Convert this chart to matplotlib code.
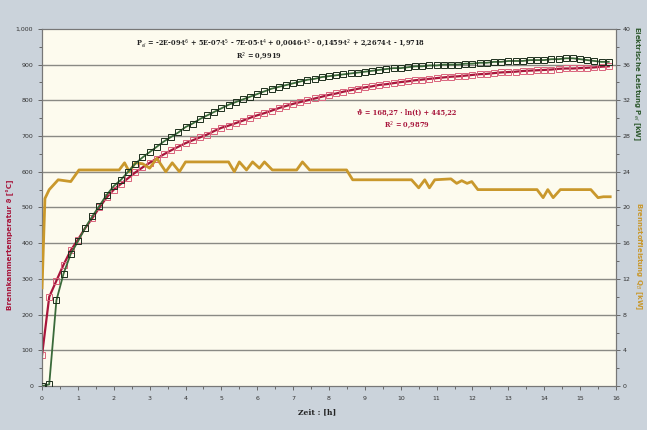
import numpy as np
import matplotlib
matplotlib.use("Agg")
from matplotlib import pyplot as plt
from matplotlib.ticker import MultipleLocator, FuncFormatter

#time axis for the measured series [h]
t_meas = [i * 0.2 for i in range(80)]

#combustion chamber temperature [degC]
temp = [87, 250, 295, 340, 380, 410, 442, 470, 500, 528,
        550, 566, 582, 598, 612, 625, 637, 649, 660, 670,
        680, 688, 696, 704, 714, 723, 729, 736, 743, 751,
        758, 764, 771, 778, 784, 790, 795, 800, 805, 810,
        815, 819, 824, 828, 832, 836, 839, 843, 845, 848,
        851, 853, 856, 858, 860, 862, 864, 866, 867, 869,
        871, 873, 874, 876, 878, 879, 880, 882, 883, 884,
        885, 886, 888, 889, 889, 890, 891, 892, 894, 895]

#electric power [kW]
p_el = [0.0, 0.2, 9.6, 12.6, 14.8, 16.2, 17.7, 19.0, 20.2, 21.4,
        22.4, 23.1, 24.0, 24.9, 25.6, 26.2, 26.8, 27.4, 27.9, 28.4,
        29.0, 29.4, 29.9, 30.3, 30.7, 31.1, 31.5, 31.8, 32.1, 32.4,
        32.7, 33.0, 33.3, 33.5, 33.7, 33.9, 34.1, 34.3, 34.4, 34.6,
        34.7, 34.8, 34.9, 35.0, 35.1, 35.2, 35.3, 35.4, 35.5, 35.6,
        35.6, 35.7, 35.8, 35.8, 35.9, 35.9, 36.0, 36.0, 36.0, 36.1,
        36.1, 36.2, 36.2, 36.3, 36.3, 36.4, 36.4, 36.4, 36.5, 36.5,
        36.5, 36.6, 36.6, 36.7, 36.7, 36.6, 36.5, 36.4, 36.3, 36.3]

#fuel power (orange) [kW]
t_fuel = [0.0, 0.08, 0.2, 0.45, 0.8, 1.03, 2.15, 2.3, 2.43, 2.6,
          2.8, 3.0, 3.2, 3.45, 3.63, 3.83, 4.0, 5.2, 5.36, 5.5,
          5.7, 5.87, 6.06, 6.2, 6.42, 7.1, 7.26, 7.46, 8.49, 8.66,
          10.3, 10.5, 10.67, 10.8, 10.95, 11.4, 11.56, 11.7, 11.85, 11.98,
          12.15, 13.8, 13.97, 14.1, 14.25, 14.45, 15.3, 15.5, 15.65, 15.84]
p_fuel = [11.0, 21.0, 22.0, 23.1, 22.9, 24.2, 24.2, 25.0, 24.0, 25.0,
          24.9, 24.4, 25.5, 24.0, 25.0, 24.0, 25.1, 25.1, 24.0, 25.1,
          24.2, 25.1, 24.4, 25.1, 24.2, 24.2, 25.1, 24.2, 24.2, 23.1,
          23.1, 22.2, 23.1, 22.2, 23.1, 23.2, 22.7, 23.0, 22.7, 22.9,
          22.0, 22.0, 21.1, 22.0, 21.1, 22.0, 22.0, 21.1, 21.2, 21.2]

bg = '#cbd3db'
fig = plt.figure(figsize=(6.47, 4.30), dpi=100, facecolor=bg)
ax = fig.add_axes([0.065, 0.102, 0.887, 0.831])
ax.set_facecolor('#fdfbee')
ax2 = ax.twinx()

#grid lines
for v in range(100, 1000, 100):
    ax.axhline(v, color='#8a8a84', lw=1.0, zorder=1)

#temperature (left)
ax.plot(t_meas, temp, color='#a8163c', lw=1.6, marker='s', ms=4.5,
        mfc='none', mec='#d9637c', mew=0.7, zorder=4)

#power (right)
ax2.plot(t_fuel, p_fuel, color='#c9982c', lw=2.0, zorder=3)
ax2.plot(t_meas, p_el, color='#3a6a3a', lw=1.3, marker='s', ms=4.5,
         mfc='none', mec='#1c2e1c', mew=0.7, zorder=5)

ax.set_xlim(0, 16)
ax.set_ylim(0, 1000)
ax2.set_ylim(0, 40)

ax.xaxis.set_major_locator(MultipleLocator(1))
ax.xaxis.set_minor_locator(MultipleLocator(0.5))
ax.yaxis.set_major_locator(MultipleLocator(100))
ax.yaxis.set_minor_locator(MultipleLocator(50))
ax2.yaxis.set_major_locator(MultipleLocator(4))
ax2.yaxis.set_minor_locator(MultipleLocator(2))
ax.yaxis.set_major_formatter(FuncFormatter(lambda v, p: f'{int(v):,}'))

for a in (ax, ax2):
    a.tick_params(which='both', direction='out', colors='#555555',
                  labelsize=4.5, length=3, width=0.6, labelcolor='#333333')
    a.tick_params(which='minor', length=2)
    for s in a.spines.values():
        s.set_color('#777777')
        s.set_linewidth(0.8)
ax.tick_params(axis='x', pad=4)
ax2.tick_params(axis='y', pad=1.5)

#texts
fig.text(0.49, 0.042, 'Zeit : [h]', fontsize=5.5, fontweight='bold',
         family='DejaVu Serif', color='#222222', ha='center', va='center')
fig.text(0.016, 0.43, 'Brennkammertemperatur \u03d1 [°C]', fontsize=5.2,
         fontweight='bold', color='#a8163c', rotation=90, ha='center', va='center')
fig.text(0.984, 0.805, 'Elektrische Leistung P$_{el}$ [kW]', fontsize=5.0,
         fontweight='bold', color='#2f5a2f', rotation=270, ha='center', va='center')
fig.text(0.987, 0.405, 'Brennstoffleistung Q$_{B}$ [kW]', fontsize=5.0,
         fontweight='bold', color='#c9982c', rotation=270, ha='center', va='center')

ax.text(0.415, 0.957,
        'P$_{el}$ = -2E-09\u00b7t$^6$ + 5E-07\u00b7t$^5$ - 7E-05\u00b7t$^4$ + 0,0046\u00b7t$^3$'
        ' - 0,1459\u00b7t$^2$ + 2,2674\u00b7t - 1,9718',
        transform=ax.transAxes, fontsize=4.8, fontweight='bold',
        family='DejaVu Serif', color='#222222', ha='center', va='center')
ax.text(0.378, 0.92, 'R$^2$ = 0,9919', transform=ax.transAxes, fontsize=4.8,
        fontweight='bold', family='DejaVu Serif', color='#222222',
        ha='center', va='center')
ax.text(0.636, 0.765, '\u03d1 = 168,27 \u00b7 ln(t) + 445,22', transform=ax.transAxes,
        fontsize=4.8, fontweight='bold', family='DejaVu Serif', color='#a8163c',
        ha='center', va='center')
ax.text(0.636, 0.729, 'R$^2$ = 0,9879', transform=ax.transAxes, fontsize=4.8,
        fontweight='bold', family='DejaVu Serif', color='#a8163c',
        ha='center', va='center')

fig.savefig('out.png', dpi=100, facecolor=bg)
